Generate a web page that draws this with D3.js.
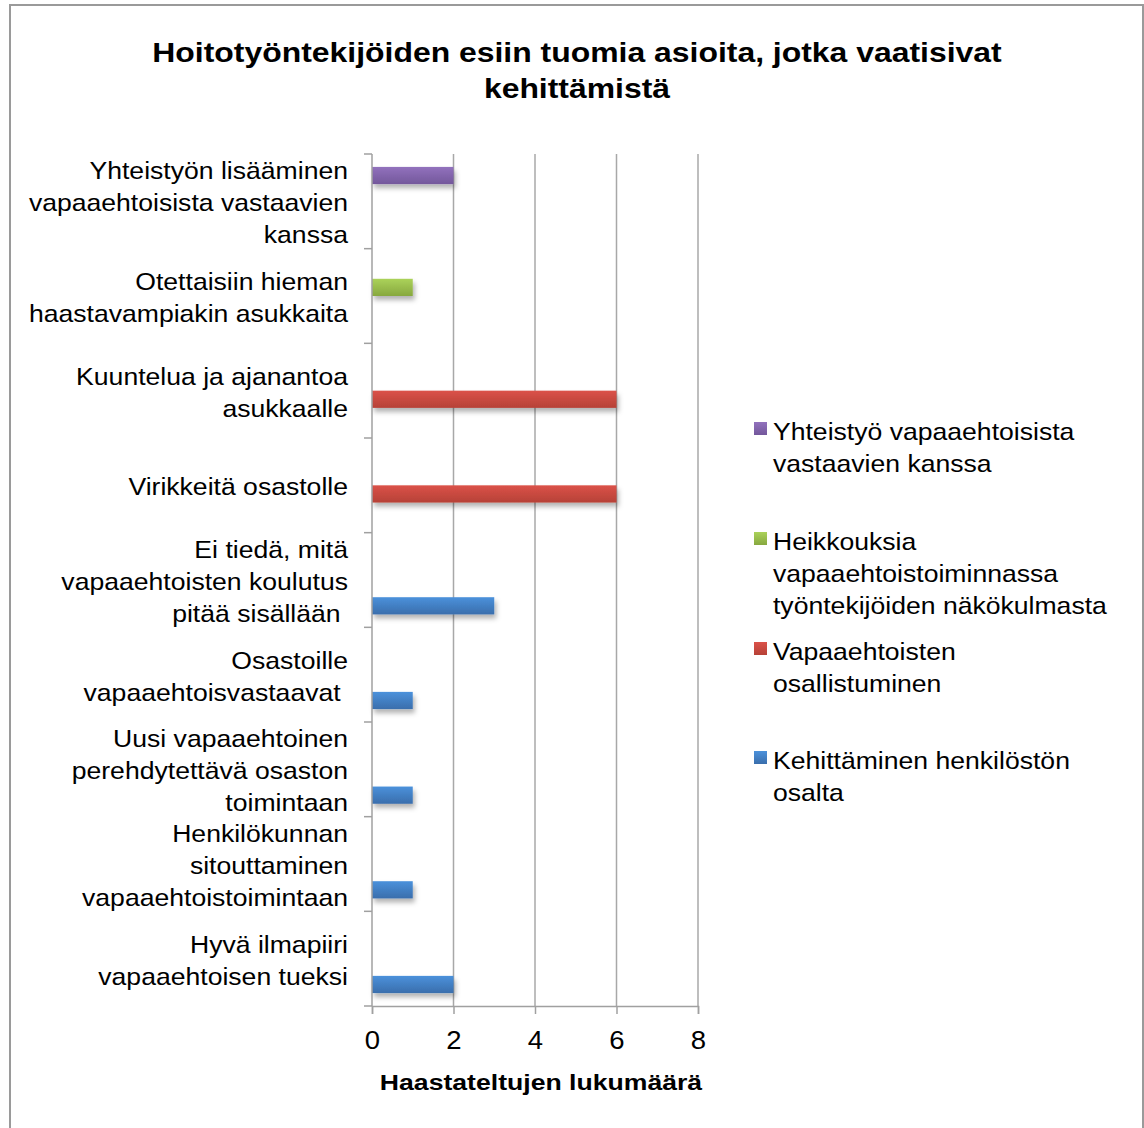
<!DOCTYPE html>
<html>
<head>
<meta charset="utf-8">
<script src="https://cdn.jsdelivr.net/npm/d3@7"></script>
<style>
body { margin: 0; background: #fff; }
text { font-family: "Liberation Sans", Arial, sans-serif; fill: #000; }
</style>
</head>
<body>
<svg id="chart"></svg>
<script>
var w = 1144;
var h = 1128;

// categories top to bottom, each label split into lines
var categories = [
	["Yhteistyön lisääminen", "vapaaehtoisista vastaavien", "kanssa"],
	["Otettaisiin hieman", "haastavampiakin asukkaita"],
	["Kuuntelua ja ajanantoa", "asukkaalle"],
	["Virikkeitä osastolle"],
	["Ei tiedä, mitä", "vapaaehtoisten koulutus", "pitää sisällään "],
	["Osastoille", "vapaaehtoisvastaavat "],
	["Uusi vapaaehtoinen", "perehdytettävä osaston", "toimintaan"],
	["Henkilökunnan", "sitouttaminen", "vapaaehtoistoimintaan"],
	["Hyvä ilmapiiri", "vapaaehtoisen tueksi"]
];

var seriesNames = [
	["Kehittäminen henkilöstön", "osalta"],
	["Vapaaehtoisten", "osallistuminen"],
	["Heikkouksia", "vapaaehtoistoiminnassa", "työntekijöiden näkökulmasta"],
	["Yhteistyö vapaaehtoisista", "vastaavien kanssa"]
];

// values per series, same order as categories (0 = no bar)
var kehittaminen = [0, 0, 0, 0, 3, 1, 1, 1, 2];
var osallistuminen = [0, 0, 6, 6, 0, 0, 0, 0, 0];
var heikkouksia = [0, 1, 0, 0, 0, 0, 0, 0, 0];
var yhteistyo = [2, 0, 0, 0, 0, 0, 0, 0, 0];

var xTicks = [0, 2, 4, 6, 8];

var seriesValues = [kehittaminen, osallistuminen, heikkouksia, yhteistyo];
var colors = [
	["#4b91db", "#3a6eac"],
	["#db5249", "#b64137"],
	["#abd25a", "#87a83f"],
	["#9272bd", "#73579b"]
];

var margin = { left: 372, right: 446, top: 154, bottom: 122 };

// the original text is a bit wider than Liberation Sans
function stretch(x, k) {
	return "translate(" + x + ",0) scale(" + k + ",1) translate(" + (-x) + ",0)";
}

var svg = d3.select("#chart")
	.attr("width", w)
	.attr("height", h);

var defs = svg.append("defs");
colors.forEach(function (c, i) {
	var g = defs.append("linearGradient")
		.attr("id", "grad" + i)
		.attr("x1", 0).attr("y1", 0)
		.attr("x2", 0).attr("y2", 1);
	g.append("stop").attr("offset", "0%").attr("stop-color", c[0]);
	g.append("stop").attr("offset", "100%").attr("stop-color", c[1]);
});
defs.append("filter")
	.attr("id", "shadow")
	.attr("x", "-10%").attr("y", "-50%")
	.attr("width", "130%").attr("height", "250%")
	.append("feDropShadow")
	.attr("dx", 2).attr("dy", 4)
	.attr("stdDeviation", 2.5)
	.attr("flood-color", "#000")
	.attr("flood-opacity", 0.3);

// outer border
svg.append("rect")
	.attr("x", 10).attr("y", 5)
	.attr("width", 1133).attr("height", 1140)
	.attr("fill", "none")
	.attr("stroke", "#9a9a9a")
	.attr("stroke-width", 2);

// title
svg.append("text")
	.attr("x", 577)
	.attr("text-anchor", "middle")
	.attr("transform", stretch(577, 1.14))
	.style("font-weight", "bold")
	.style("font-size", "28px")
	.selectAll("tspan")
	.data(["Hoitotyöntekijöiden esiin tuomia asioita, jotka vaatisivat", "kehittämistä"])
	.enter()
	.append("tspan")
	.attr("x", 577)
	.attr("y", function (d, i) { return 62 + i * 36; })
	.text(function (d) { return d; });

var xScale = d3.scaleLinear()
	.domain([0, 8])
	.range([margin.left, w - margin.right]);

var yScale = d3.scaleBand()
	.domain(d3.range(categories.length))
	.range([margin.top, h - margin.bottom])
	.padding(0);

// Excel style gap: 150% of bar width split either side
var bw = yScale.bandwidth() / (seriesValues.length + 1.5);
var inner = d3.scaleBand()
	.domain([3, 2, 1, 0])
	.range([0.75 * bw, yScale.bandwidth() - 0.75 * bw]);

// gridlines
svg.append("g")
	.selectAll("line")
	.data(xTicks.slice(1))
	.enter()
	.append("line")
	.attr("x1", function (d) { return xScale(d); })
	.attr("x2", function (d) { return xScale(d); })
	.attr("y1", margin.top)
	.attr("y2", h - margin.bottom)
	.attr("stroke", "#a8a8a8")
	.attr("stroke-width", 1.5);

// bars
seriesValues.forEach(function (vals, s) {
	svg.append("g")
		.selectAll("rect")
		.data(vals.map(function (v, i) { return { v: v, i: i }; }).filter(function (d) { return d.v > 0; }))
		.enter()
		.append("rect")
		.attr("x", xScale(0))
		.attr("y", function (d) { return yScale(d.i) + inner(s); })
		.attr("width", function (d) { return xScale(d.v) - xScale(0); })
		.attr("height", inner.bandwidth())
		.attr("fill", "url(#grad" + s + ")")
		.attr("filter", "url(#shadow)");
});

// y axis line and ticks
var yAxisG = svg.append("g");
yAxisG.append("line")
	.attr("x1", xScale(0)).attr("x2", xScale(0))
	.attr("y1", margin.top).attr("y2", h - margin.bottom)
	.attr("stroke", "#a0a0a0")
	.attr("stroke-width", 1.5);
yAxisG.selectAll(".tick")
	.data(d3.range(categories.length + 1))
	.enter()
	.append("line")
	.attr("x1", xScale(0) - 8).attr("x2", xScale(0))
	.attr("y1", function (d) { return margin.top + d * yScale.step(); })
	.attr("y2", function (d) { return margin.top + d * yScale.step(); })
	.attr("stroke", "#a0a0a0")
	.attr("stroke-width", 1.5);

// category labels
var lineH = 32;
svg.append("g")
	.attr("transform", stretch(348, 1.108))
	.selectAll("text")
	.data(categories)
	.enter()
	.append("text")
	.attr("text-anchor", "end")
	.style("font-size", "24px")
	.style("white-space", "pre")
	.attr("xml:space", "preserve")
	.each(function (lines, i) {
		var cy = yScale(i) + yScale.bandwidth() / 2;
		var y0 = cy - (lines.length - 1) * lineH / 2 + 10;
		d3.select(this).selectAll("tspan")
			.data(lines)
			.enter()
			.append("tspan")
			.attr("x", 348)
			.attr("y", function (d, j) { return y0 + j * lineH; })
			.text(function (d) { return d; });
	});

// x axis
var xAxis = d3.axisBottom(xScale)
	.tickValues(xTicks)
	.tickSize(8)
	.tickPadding(17);
var xAxisG = svg.append("g")
	.attr("transform", "translate(0," + (h - margin.bottom) + ")")
	.call(xAxis);
xAxisG.select(".domain").attr("stroke", "#a0a0a0").attr("stroke-width", 1.5);
xAxisG.selectAll(".tick line").attr("stroke", "#a0a0a0").attr("stroke-width", 1.5);
xAxisG.selectAll(".tick text")
	.style("font-size", "25px")
	.style("font-family", "Liberation Sans, Arial, sans-serif")
	.attr("transform", "scale(1.1,1)")
	.attr("fill", "#000");

svg.append("text")
	.attr("x", 541)
	.attr("y", 1090)
	.attr("text-anchor", "middle")
	.attr("transform", stretch(541, 1.21))
	.style("font-weight", "bold")
	.style("font-size", "22px")
	.text("Haastateltujen lukumäärä");

// legend, top item is last series
var legendTops = [431, 541, 651, 760];
var legendOrder = [3, 2, 1, 0];
var legend = svg.append("g");
legendOrder.forEach(function (s, k) {
	var y = legendTops[k];
	legend.append("rect")
		.attr("x", 754)
		.attr("y", y - 9)
		.attr("width", 13)
		.attr("height", 13)
		.attr("fill", "url(#grad" + s + ")");
	var t = legend.append("text")
		.attr("transform", stretch(773, 1.108))
		.style("font-size", "24px");
	t.selectAll("tspan")
		.data(seriesNames[s])
		.enter()
		.append("tspan")
		.attr("x", 773)
		.attr("y", function (d, j) { return y + 9 + j * lineH; })
		.text(function (d) { return d; });
});
</script>
</body>
</html>
